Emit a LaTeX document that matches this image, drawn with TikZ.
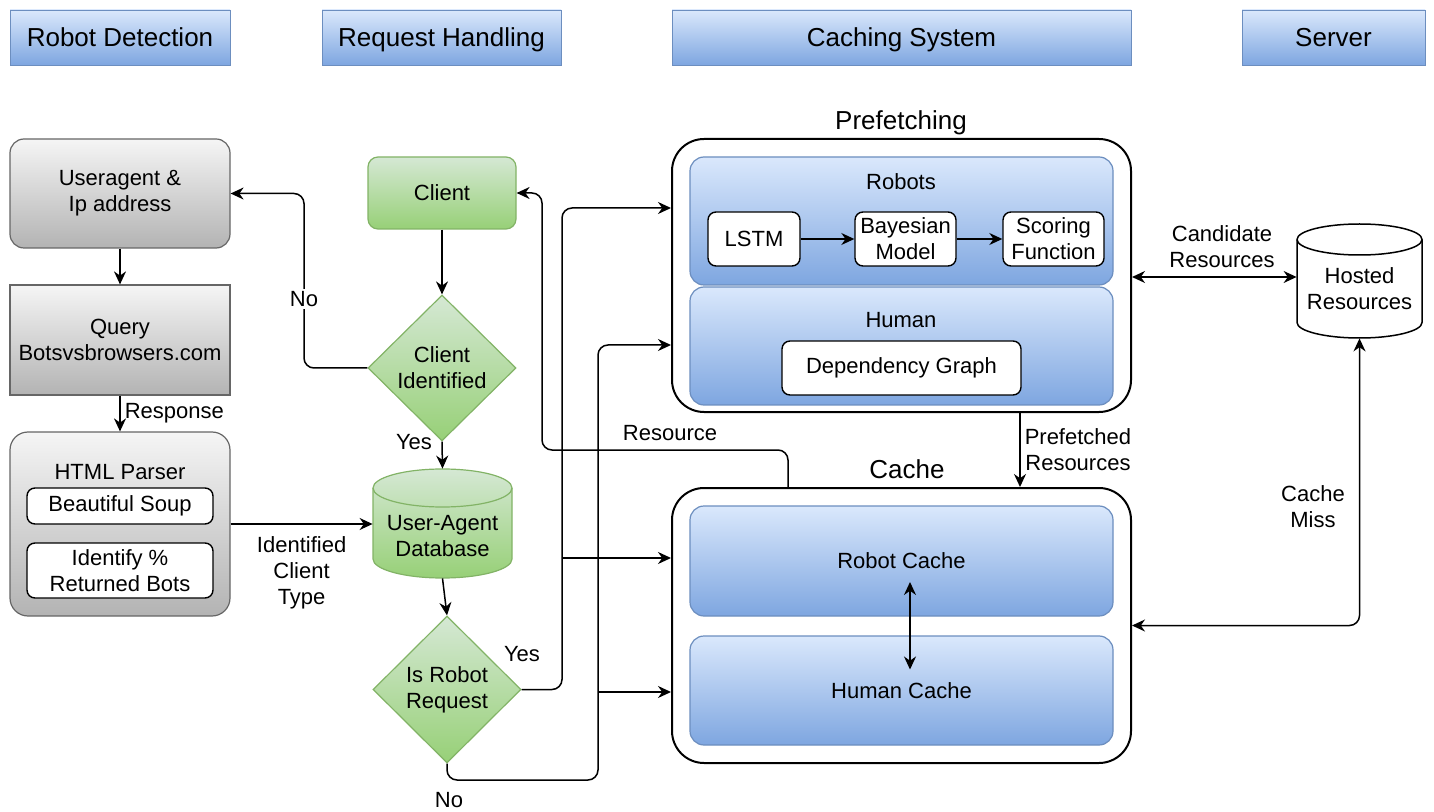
\documentclass[tikz,border=0pt]{standalone}
\usepackage{fontspec}
\setmainfont{Liberation Sans}
\usetikzlibrary{arrows.meta,shapes.geometric,calc}
\definecolor{blueT}{HTML}{DAE8FC}
\definecolor{blueB}{HTML}{7EA6E0}
\definecolor{blueLine}{HTML}{6C8EBF}
\definecolor{greyT}{HTML}{F5F5F5}
\definecolor{greyB}{HTML}{B3B3B3}
\definecolor{greyLine}{HTML}{666666}
\definecolor{greenT}{HTML}{D5E8D4}
\definecolor{greenB}{HTML}{97D077}
\definecolor{greenLine}{HTML}{82B366}

\begin{document}
\begin{tikzpicture}[x=0.5pt,y=-0.5pt,
  every node/.style={font=\fontsize{11}{13}\selectfont, align=center, inner sep=0pt},
  hdr/.style={draw=blueLine, top color=blueT, bottom color=blueB, minimum height=27.5pt, text height=9.5pt, text depth=0pt, font=\fontsize{13}{15}\selectfont},
  greybox/.style={draw=greyLine, top color=greyT, bottom color=greyB, line width=0.6pt},
  greenbox/.style={draw=greenLine, top color=greenT, bottom color=greenB, line width=0.6pt},
  bluebox/.style={draw=blueLine, top color=blueT, bottom color=blueB, rounded corners=7pt, line width=0.6pt},
  whitebox/.style={draw, fill=white, rounded corners=4pt, line width=0.7pt},
  outerbox/.style={draw, fill=white, rounded corners=16pt, line width=1pt},
  title/.style={font=\fontsize{13}{15}\selectfont, text height=9.5pt, text depth=0pt},
  arr/.style={-{Stealth[length=6.5pt,width=6pt]}, line width=0.75pt, rounded corners=5pt},
  arrboth/.style={{Stealth[length=6.5pt,width=6pt]}-{Stealth[length=6.5pt,width=6pt]}, line width=0.75pt, rounded corners=5pt}]
\useasboundingbox (0,0) rectangle (1434,812);

% lane headers
\foreach \id/\cx/\boxw/\txt in {robot/120/110/Robot Detection, req/441.5/119.5/Request Handling, caching/901.5/229.5/Caching System, server/1333.5/91.5/Server}
  \node[hdr, minimum width=\boxw pt] (hdr\id) at (\cx,37.5) {\txt};

% robot detection
\node[greybox, rounded corners=7pt, minimum width=110pt, minimum height=54.5pt] (ua) at (120,193.5) {Useragent \&\\Ip address};
\node[greybox, minimum width=110pt, minimum height=55pt] (query) at (120,340) {Query\\Botsvsbrowsers.com};
\node[greybox, rounded corners=9pt, minimum width=110pt, minimum height=92pt] (html) at (120,524) {};
\node (htmltitle) at (120,472) {HTML Parser};
\node[whitebox, minimum width=93pt, minimum height=18pt] (soup) at (120,506) {Beautiful Soup};
\node[whitebox, minimum width=93pt, minimum height=27.5pt] (botpct) at (120,570.5) {Identify \%\\Returned Bots};

% request handling
\node[greenbox, rounded corners=5pt, minimum width=74pt, minimum height=36pt] (client) at (442,193) {Client};
\node[greenbox, diamond, minimum width=74pt, minimum height=73pt] (clientid) at (442,368) {Client\\Identified};
% user-agent database cylinder
\shade[top color=greenT, bottom color=greenB, draw=greenLine, line width=0.6pt] (373,488) -- (373,559) arc[start angle=180, end angle=360, x radius=34.75pt, y radius=9.5pt] -- (512,488) arc[start angle=0, end angle=180, x radius=34.75pt, y radius=9.5pt] -- cycle;
\draw[greenLine, line width=0.6pt] (373,488) arc[start angle=180, end angle=360, x radius=34.75pt, y radius=9.5pt];
\node[minimum width=69.5pt, minimum height=54.5pt] (uadb) at (442.5,523.5) {};
\node (uadbtext) at ([yshift=-6.5pt]uadb.center) {User-Agent\\Database};
\node[greenbox, diamond, minimum width=74pt, minimum height=73.5pt] (isrobot) at (447,689.5) {Is Robot\\Request};

% prefetching
\node[outerbox, minimum width=229.5pt, minimum height=136.5pt] (prefetch) at (901.5,275.5) {};
\node[title] (prefetchtitle) at (901,120) {Prefetching};
\node[bluebox, minimum width=211.5pt, minimum height=64pt] (robots) at (901.5,221) {};
\node (robotstitle) at (901,182) {Robots};
\node[whitebox, minimum width=46pt, minimum height=27pt] (lstm) at (754,239) {LSTM};
\node[whitebox, minimum width=50.5pt, minimum height=27pt] (bayes) at (905.5,239) {Bayesian\\Model};
\node[whitebox, minimum width=50.5pt, minimum height=27pt] (scoring) at (1053.5,239) {Scoring\\Function};
\node[bluebox, minimum width=211.5pt, minimum height=59pt] (human) at (901.5,346) {};
\node (humantitle) at (901,320) {Human};
\node[whitebox, minimum width=119.5pt, minimum height=27pt] (depgraph) at (901.5,368) {Dependency Graph};

% cache
\node[outerbox, minimum width=229.5pt, minimum height=137.5pt] (cache) at (901.5,625.5) {};
\node[title] (cachetitle) at (907,469) {Cache};
\node[bluebox, minimum width=211.5pt, minimum height=55pt] (robotcache) at (901.5,561) {Robot Cache};
\node[bluebox, minimum width=211.5pt, minimum height=54.5pt] (humancache) at (901.5,690.5) {Human Cache};

% server: hosted resources cylinder
\filldraw[fill=white, line width=0.75pt] (1297,239.5) -- (1297,322.5) arc[start angle=180, end angle=360, x radius=31.25pt, y radius=7.75pt] -- (1422,239.5) arc[start angle=0, end angle=180, x radius=31.25pt, y radius=7.75pt] -- cycle;
\draw[line width=0.75pt] (1297,239.5) arc[start angle=180, end angle=360, x radius=31.25pt, y radius=7.75pt];
\node[minimum width=62.5pt, minimum height=57pt] (hosted) at (1359.5,281) {};
\node (hostedtext) at ([yshift=-4pt]hosted.center) {Hosted\\Resources};

% connectors
\draw[arr] (ua) -- (query);
\draw[arr] (query) -- (html) node[midway, right, xshift=2pt] {Response};
\draw[arr] (html.east) -- (html.east -| uadb.west) node[midway, below=6pt] {Identified\\Client\\Type};
\draw[arr] (client) -- (clientid);
\coordinate (nox) at (304,0);
\draw[arr] (clientid.west) -| (nox |- ua.east) -- (ua.east);
\node[fill=white, inner sep=1pt] (nolbl) at (304,299) {No};
\draw[arr] (clientid.south) -- (uadb.north);
\node (yeslbl) at (414,442) {Yes};
\draw[arr] (uadb.south) -- (isrobot.north);

\coordinate (yesturn) at (562,208);
\coordinate (yesmid) at (562,558);
\draw[arr] (isrobot.east) -| (yesturn) -- (yesturn -| prefetch.west);
\draw[arr] (yesmid) -- (yesmid -| cache.west);
\node (yesrobot) at (522,654) {Yes};

\coordinate (noturn) at (598,780);
\coordinate (nohigh) at (598,345);
\coordinate (nomid) at (598,692);
\draw[arr] (isrobot.south) |- (noturn) -- (nohigh) -- (nohigh -| prefetch.west);
\draw[arr] (nomid) -- (nomid -| cache.west);
\node (norobot) at (449,800) {No};

\coordinate (resturn) at (788,450);
\coordinate (resleft) at (542,450);
\draw[arr] (resturn |- cache.north) -- (resturn) -- (resleft) |- (client.east);
\node (reslbl) at (670,433) {Resource};

\draw[arr] (lstm) -- (bayes);
\draw[arr] (bayes) -- (scoring);

\coordinate (pfx) at (1020,0);
\draw[arr] (pfx |- prefetch.south) -- (pfx |- cache.north) node[midway, right, xshift=2pt] {Prefetched\\Resources};

\coordinate (candy) at (0,277);
\draw[arrboth] (candy -| prefetch.east) -- (candy -| hosted.west);
\node (candlbl) at (1222,247) {Candidate\\Resources};
\draw[arrboth] (hosted.south) |- (cache.east);
\node (misslbl) at (1313,507) {Cache\\Miss};
\draw[arrboth] ($(robotcache.center)+(8.5,21)$) -- ($(humancache.center)+(8.5,-21)$);
\end{tikzpicture}
\end{document}
